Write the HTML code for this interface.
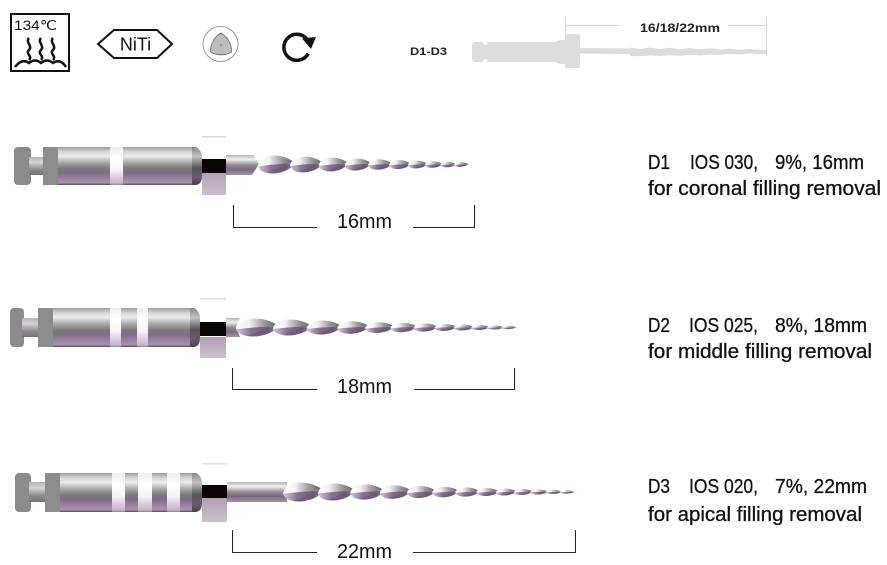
<!DOCTYPE html>
<html><head><meta charset="utf-8"><style>
html,body{margin:0;padding:0;background:#fff;}
svg{display:block;}
text{font-family:"Liberation Sans",Arial,sans-serif;}
</style></head><body>
<svg width="887" height="565" viewBox="0 0 887 565" xmlns="http://www.w3.org/2000/svg">
<defs>
<linearGradient id="metal" x1="0" y1="0" x2="0" y2="1">
<stop offset="0" stop-color="#9c9c9c"/><stop offset="0.12" stop-color="#d2d2d2"/><stop offset="0.24" stop-color="#ececec"/><stop offset="0.4" stop-color="#acacac"/><stop offset="0.56" stop-color="#7a7a7a"/><stop offset="0.68" stop-color="#7f6c86"/><stop offset="0.84" stop-color="#9a84a2"/><stop offset="0.94" stop-color="#a892ae"/><stop offset="1" stop-color="#5a4e5e"/>
</linearGradient>
<linearGradient id="band" x1="0" y1="0" x2="0" y2="1">
<stop offset="0" stop-color="#eeeeee"/><stop offset="0.3" stop-color="#ffffff"/><stop offset="0.6" stop-color="#f6f2f7"/><stop offset="0.8" stop-color="#dccbe0"/><stop offset="0.95" stop-color="#c8b4cc"/><stop offset="1" stop-color="#8e7e92"/>
</linearGradient>
<linearGradient id="taper" x1="0" y1="0" x2="0" y2="1">
<stop offset="0" stop-color="#8a8a8a"/><stop offset="0.25" stop-color="#c0c0c0"/><stop offset="0.55" stop-color="#555555"/><stop offset="0.8" stop-color="#6a5870"/><stop offset="1" stop-color="#4a4050"/>
</linearGradient>
<linearGradient id="cross" x1="0" y1="0" x2="0" y2="1">
<stop offset="0" stop-color="#b4b4b4"/><stop offset="0.3" stop-color="#d4d4d4"/><stop offset="0.7" stop-color="#8a8a8a"/><stop offset="1" stop-color="#7a6e7e"/>
</linearGradient>
<linearGradient id="pblock" x1="0" y1="0" x2="0" y2="1">
<stop offset="0" stop-color="#b2a0b6"/><stop offset="1" stop-color="#cbbfcd"/>
</linearGradient>
<linearGradient id="shaft" x1="0" y1="0" x2="0" y2="1">
<stop offset="0" stop-color="#b4b4b4"/><stop offset="0.22" stop-color="#f2f2f2"/><stop offset="0.5" stop-color="#8e8e8e"/><stop offset="0.72" stop-color="#7a6a80"/><stop offset="1" stop-color="#a493a8"/>
</linearGradient>
<linearGradient id="tl" x1="0" y1="0" x2="1" y2="0">
<stop offset="0" stop-color="#ffffff"/><stop offset="0.3" stop-color="#f2f2f2"/><stop offset="0.65" stop-color="#9a9a9a"/><stop offset="1" stop-color="#5c5c5c"/>
</linearGradient>
<linearGradient id="tp" x1="0" y1="0" x2="1" y2="0">
<stop offset="0" stop-color="#d6c8da"/><stop offset="0.35" stop-color="#8a7292"/><stop offset="0.75" stop-color="#6e5a78"/><stop offset="1" stop-color="#b0a0b4"/>
</linearGradient>
<g id="tw">
<path d="M0,0.1 C0.02,-0.3 0.25,-0.5 0.5,-0.5 C0.8,-0.5 1,-0.3 1.15,-0.1 C0.8,-0.05 0.4,0 0,0.1 Z" fill="url(#tl)"/>
<path d="M0,0.1 C0.4,0 0.8,-0.05 1.15,-0.1 C1.05,0.3 0.7,0.5 0.45,0.5 C0.2,0.5 0.05,0.35 0,0.1 Z" fill="url(#tp)"/>
<path d="M0.3,0.48 C0.5,0.3 0.8,0.05 1.1,-0.08 L1.13,0.02 C0.9,0.25 0.7,0.45 0.55,0.5 Z" fill="#6a5674" opacity="0.55"/>
</g>
</defs>

<!-- ICONS -->
<rect x="11" y="14" width="58" height="57" fill="none" stroke="#111" stroke-width="2"/>
<text x="14" y="30" font-size="14" fill="#111" textLength="43" lengthAdjust="spacingAndGlyphs">134℃</text>
<g fill="none" stroke="#111" stroke-width="2.5">
<path d="M29,38 C25,42 33,46 29,50 C25,54 33,56 29,60"/>
<path d="M41,38 C37,42 45,46 41,50 C37,54 45,56 41,60"/>
<path d="M53,38 C49,42 57,46 53,50 C49,54 57,56 53,60"/>
<path d="M15,67 Q22,58 29,63 Q35,58 41,63 Q47,58 53,63 Q60,58 66,67"/>
</g>
<polygon points="98,44 114,30 157,30 172,44 157,58 114,58" fill="none" stroke="#111" stroke-width="2"/>
<text x="135.5" y="50.5" font-size="18" fill="#111" text-anchor="middle">NiTi</text>
<circle cx="220.5" cy="44" r="17.5" fill="none" stroke="#999" stroke-width="1"/>
<path d="M221,33 A21,21 0 0 1 231.5,52 A21,21 0 0 1 210.5,52 A21,21 0 0 1 221,33 Z" fill="#bdbdbd" stroke="#666" stroke-width="0.8"/>
<circle cx="221" cy="45" r="0.8" fill="#c33"/>
<path d="M308.3,53.5 A13,13 0 1 1 308.5,41.5" fill="none" stroke="#111" stroke-width="3.5"/>
<polygon points="302,38.5 316,37 311,49" fill="#111"/>

<!-- TOP RIGHT SCHEMATIC -->
<text x="410" y="55" font-size="11" font-weight="bold" fill="#222" textLength="37" lengthAdjust="spacingAndGlyphs">D1-D3</text>
<g fill="#dcdcdc">
<rect x="472" y="42" width="12" height="20" rx="3"/>
<rect x="482" y="45" width="7" height="14"/>
<rect x="487" y="42" width="70" height="20"/>
<path d="M555,42 L560,40 L566,40 L566,64 L560,64 L555,62 Z"/>
<rect x="565" y="34" width="15" height="34" rx="2"/>
<polygon points="580,48 630,48.5 630,54 580,53.5"/>
<polygon points="630,47.5 640,49 650,47.5 660,49 670,47.8 680,49.2 690,48 700,49.3 710,48.3 720,49.5 730,48.6 740,49.7 750,49 760,50 767,50 767,53.5 760,54 750,53.5 740,54.5 730,54 720,55 710,54.5 700,55.4 690,54.8 680,55.8 670,55.2 660,56 650,55.5 640,56.3 630,56"/>
</g>
<g stroke="#d4d4d4" stroke-width="1" fill="none">
<path d="M565.5,17 V34"/>
<path d="M766.5,17 V55"/>
<path d="M565,25.5 H620"/>
<path d="M728,25.5 H767"/>
</g>
<text x="640" y="32" font-size="12" font-weight="bold" fill="#222" textLength="80" lengthAdjust="spacingAndGlyphs">16/18/22mm</text>

<!-- FILE 1 -->
<rect x="14" y="147" width="17" height="38" rx="4" fill="#8b8b8b"/>
<rect x="29" y="157" width="15" height="18" fill="url(#cross)"/>
<rect x="43" y="147" width="15" height="38" fill="#8c8c8c"/>
<rect x="58" y="147" width="135" height="38" fill="url(#metal)"/>
<rect x="110" y="147" width="13" height="38" fill="url(#band)"/>
<path d="M192,147 L196,147 Q202,150 202,158 L202,176 Q202,184 196,185 L192,185 Z" fill="url(#taper)"/>
<rect x="202" y="136" width="24" height="1.5" fill="#dadada"/>
<rect x="202" y="159" width="24" height="14" fill="#0a0505"/>
<rect x="202" y="173" width="24" height="22" fill="url(#pblock)"/>
<path d="M226,155 L253,155 L259,164 L252,175 L226,175 Z" fill="url(#shaft)"/>
<use href="#tw" transform="translate(258,164.5) scale(32,17.9)"/>
<use href="#tw" transform="translate(290,164.5) scale(28.8,15.7)"/>
<use href="#tw" transform="translate(318.8,164.5) scale(25.9,13.8)"/>
<use href="#tw" transform="translate(344.7,164.5) scale(23.3,12)"/>
<use href="#tw" transform="translate(368,164.5) scale(21,10.5)"/>
<use href="#tw" transform="translate(389,164.5) scale(18.9,9.1)"/>
<use href="#tw" transform="translate(407.9,164.5) scale(17,7.8)"/>
<use href="#tw" transform="translate(424.9,164.5) scale(15.3,6.6)"/>
<use href="#tw" transform="translate(440.2,164.5) scale(13.8,5.6)"/>
<use href="#tw" transform="translate(454,164.5) scale(12.4,4.7)"/>
<g stroke="#222" stroke-width="1" fill="none">
<path d="M233.5,205 V227.5 H317"/>
<path d="M413,227.5 H474.5 V205"/>
</g>
<text x="337" y="228" font-size="20" fill="#111" textLength="55" lengthAdjust="spacingAndGlyphs">16mm</text>

<!-- FILE 2 -->
<rect x="10" y="308" width="14" height="39" rx="4" fill="#8b8b8b"/>
<rect x="22" y="318" width="17" height="19" fill="url(#cross)"/>
<rect x="38" y="308" width="15" height="39" fill="#8c8c8c"/>
<rect x="53" y="308" width="138" height="39" fill="url(#metal)"/>
<rect x="110" y="308" width="11" height="39" fill="url(#band)"/>
<rect x="137" y="308" width="11" height="39" fill="url(#band)"/>
<path d="M190,308 L194,308 Q200,311 200,319 L200,338 Q200,346 194,347 L190,347 Z" fill="url(#taper)"/>
<rect x="200" y="298" width="26" height="1.5" fill="#dadada"/>
<rect x="200" y="322" width="26" height="14" fill="#0a0505"/>
<rect x="200" y="337" width="26" height="21" fill="url(#pblock)"/>
<path d="M226,318 L240,318 L236,327 L240,337 L226,337 Z" fill="url(#shaft)"/>
<use href="#tw" transform="translate(236,327.5) scale(37,17.9)"/>
<use href="#tw" transform="translate(273,327.5) scale(33.7,15.9)"/>
<use href="#tw" transform="translate(306.7,327.5) scale(30.6,14.1)"/>
<use href="#tw" transform="translate(337.3,327.5) scale(27.9,12.4)"/>
<use href="#tw" transform="translate(365.2,327.5) scale(25.4,10.8)"/>
<use href="#tw" transform="translate(390.6,327.5) scale(23.1,9.4)"/>
<use href="#tw" transform="translate(413.7,327.5) scale(21,8.2)"/>
<use href="#tw" transform="translate(434.7,327.5) scale(19.1,7)"/>
<use href="#tw" transform="translate(453.8,327.5) scale(17.4,6)"/>
<use href="#tw" transform="translate(471.2,327.5) scale(15.8,5)"/>
<use href="#tw" transform="translate(487,327.5) scale(14.4,4.1)"/>
<use href="#tw" transform="translate(501.4,327.5) scale(13.1,3.3)"/>
<g stroke="#222" stroke-width="1" fill="none">
<path d="M232.5,368 V389.5 H317"/>
<path d="M414,389.5 H514.5 V368"/>
</g>
<text x="337" y="393" font-size="20" fill="#111" textLength="55" lengthAdjust="spacingAndGlyphs">18mm</text>

<!-- FILE 3 -->
<rect x="15" y="473" width="16" height="39" rx="4" fill="#8b8b8b"/>
<rect x="29" y="482" width="17" height="20" fill="url(#cross)"/>
<rect x="45" y="473" width="15" height="39" fill="#8c8c8c"/>
<rect x="60" y="473" width="133" height="39" fill="url(#metal)"/>
<rect x="112" y="473" width="13" height="39" fill="url(#band)"/>
<rect x="138" y="473" width="14" height="39" fill="url(#band)"/>
<rect x="167" y="473" width="13" height="39" fill="url(#band)"/>
<path d="M192,473 L196,473 Q202,476 202,484 L202,503 Q202,511 196,512 L192,512 Z" fill="url(#taper)"/>
<rect x="202" y="463" width="25" height="1.5" fill="#e2e2e2"/>
<rect x="202" y="485" width="25" height="13" fill="#0a0505"/>
<rect x="202" y="498" width="25" height="24" fill="url(#pblock)"/>
<rect x="227" y="482" width="60" height="20" fill="url(#shaft)"/>
<use href="#tw" transform="translate(283,492) scale(35,19)"/>
<use href="#tw" transform="translate(318,492) scale(32.2,17)"/>
<use href="#tw" transform="translate(350.2,492) scale(29.6,15.2)"/>
<use href="#tw" transform="translate(379.8,492) scale(27.3,13.5)"/>
<use href="#tw" transform="translate(407.1,492) scale(25.1,12)"/>
<use href="#tw" transform="translate(432.2,492) scale(23.1,10.5)"/>
<use href="#tw" transform="translate(455.3,492) scale(21.2,9.2)"/>
<use href="#tw" transform="translate(476.5,492) scale(19.5,8)"/>
<use href="#tw" transform="translate(496,492) scale(18,6.9)"/>
<use href="#tw" transform="translate(514,492) scale(16.5,5.9)"/>
<use href="#tw" transform="translate(530.5,492) scale(15.2,5)"/>
<use href="#tw" transform="translate(545.7,492) scale(14,4.1)"/>
<use href="#tw" transform="translate(559.7,492) scale(12.9,3.3)"/>
<g stroke="#222" stroke-width="1" fill="none">
<path d="M232.5,530 V552.5 H317"/>
<path d="M413,552.5 H575.5 V530"/>
</g>
<text x="337" y="558" font-size="20" fill="#111" textLength="55" lengthAdjust="spacingAndGlyphs">22mm</text>

<!-- RIGHT TEXT -->
<g font-size="20" fill="#111" stroke="#111" stroke-width="0.3">
<text x="648" y="169" textLength="22" lengthAdjust="spacingAndGlyphs">D1</text>
<text x="690" y="169" textLength="68" lengthAdjust="spacingAndGlyphs">IOS 030,</text>
<text x="775" y="169" textLength="89" lengthAdjust="spacingAndGlyphs">9%, 16mm</text>
<text x="648" y="195" textLength="233" lengthAdjust="spacingAndGlyphs">for coronal filling removal</text>

<text x="648" y="332" textLength="22" lengthAdjust="spacingAndGlyphs">D2</text>
<text x="689" y="332" textLength="69" lengthAdjust="spacingAndGlyphs">IOS 025,</text>
<text x="775" y="332" textLength="92" lengthAdjust="spacingAndGlyphs">8%, 18mm</text>
<text x="648" y="358" textLength="224" lengthAdjust="spacingAndGlyphs">for middle filling removal</text>

<text x="648" y="493" textLength="22" lengthAdjust="spacingAndGlyphs">D3</text>
<text x="689" y="493" textLength="69" lengthAdjust="spacingAndGlyphs">IOS 020,</text>
<text x="775" y="493" textLength="92" lengthAdjust="spacingAndGlyphs">7%, 22mm</text>
<text x="648" y="521" textLength="214" lengthAdjust="spacingAndGlyphs">for apical filling removal</text>
</g>
</svg>
</body></html>
